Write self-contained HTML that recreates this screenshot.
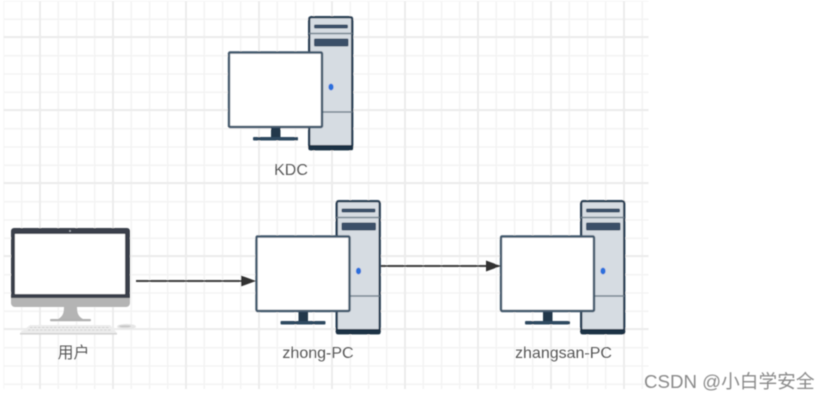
<!DOCTYPE html>
<html>
<head>
<meta charset="utf-8">
<style>
html,body{margin:0;padding:0;background:#fff;width:830px;height:400px;overflow:hidden}
svg{display:block}
text{font-family:"Liberation Sans","Noto Sans CJK SC",sans-serif}
</style>
</head>
<body>
<svg width="830" height="400" viewBox="0 0 830 400" xmlns="http://www.w3.org/2000/svg">
<defs>
<filter id="soft" x="-2%" y="-2%" width="104%" height="104%"><feGaussianBlur stdDeviation="0.4"/></filter>
<pattern id="minor" patternUnits="userSpaceOnUse" x="-5.625" y="-8.125" width="18.25" height="18.25">
<path d="M9.125 0V18.25M0 9.125H18.25" stroke="#f3f3f3" stroke-width="1.4" fill="none"/>
</pattern>
<pattern id="major" patternUnits="userSpaceOnUse" x="3.5" y="0.5" width="73" height="73">
<path d="M36.5 0V73M0 36.5H73" stroke="#ececec" stroke-width="2" fill="none"/>
</pattern>
<g id="pc">
<rect x="309.2" y="17.2" width="43" height="132" rx="2" fill="#d6dce2" stroke="#2c4155" stroke-width="2.4"/>
<rect x="308.5" y="145" width="44.5" height="5.2" rx="1.5" fill="#1d3245"/>
<rect x="314" y="24.5" width="34" height="4" rx="1.5" fill="#3a5068"/>
<path d="M309 33.5H352" stroke="#76848f" stroke-width="1.4"/>
<rect x="314" y="38.5" width="34.5" height="8" rx="1.5" fill="#3a5068"/>
<ellipse cx="331" cy="87" rx="2.6" ry="3.4" fill="#2a6fdc"/>
<path d="M322 112H352" stroke="#76848f" stroke-width="1.4"/>
<rect x="229" y="52.5" width="93" height="74.5" rx="1" fill="#fff" stroke="#43586c" stroke-width="2.4"/>
<rect x="271" y="128" width="9.5" height="9" fill="#20384c"/>
<rect x="253" y="137" width="45" height="3.5" rx="1" fill="#2f4a60"/>
</g>
</defs>
<g filter="url(#soft)">
<rect x="3.5" y="1" width="645" height="388" fill="url(#minor)"/>
<rect x="3.5" y="1" width="645" height="388" fill="url(#major)"/>

<use href="#pc"/>
<use href="#pc" x="27.5" y="184"/>
<use href="#pc" x="272" y="184"/>

<!-- iMac -->
<rect x="11" y="228" width="119" height="72" rx="3" fill="#3b3f4b"/>
<path d="M11 293H130V303a4 4 0 0 1-4 4H15a4 4 0 0 1-4-4Z" fill="#b4b4b4"/>
<rect x="11" y="293" width="119" height="5" fill="#3b3f4b"/>
<rect x="15" y="234" width="110" height="60" fill="#fff"/>
<circle cx="70" cy="231" r="0.9" fill="#aeb4bd"/>
<path d="M64 307H77C77 314 79 317 83 319H58C62 317 64 314 64 307Z" fill="#b4b4b4"/>
<rect x="50" y="319" width="41" height="2.2" rx="1" fill="#b0b0b0"/>
<path d="M30 325H110L117 333H20Z" fill="#ececec"/>
<path d="M30 327.5H110M28 330H112" stroke="#d2d2d2" stroke-width="1" stroke-dasharray="2.5 1.5"/>
<rect x="20" y="333" width="97" height="1.6" fill="#d4d4d4"/>
<ellipse cx="126.5" cy="326.5" rx="9.5" ry="2.6" fill="#e6e6e6"/>
<ellipse cx="125" cy="326.3" rx="6" ry="1.1" fill="#c8c8c8"/>

<!-- Connectors -->
<path d="M136 281H244" stroke="#3c3c3c" stroke-width="2"/>
<path d="M241 275.5L256 281L241 286.5Z" fill="#333"/>
<path d="M381 266H489" stroke="#3c3c3c" stroke-width="2"/>
<path d="M486 260.5L501 266L486 271.5Z" fill="#333"/>

<!-- Labels -->
<g font-size="16" fill="#555" text-anchor="middle">
<text x="291" y="175">KDC</text>
<text x="73.5" y="358">用户</text>
<text x="318" y="358">zhong-PC</text>
<text x="563.5" y="358">zhangsan-PC</text>
</g>
<text x="644" y="388" font-size="18.7" fill="#8a8a8a">CSDN @小白学安全</text>
</g>
</svg>
</body>
</html>
